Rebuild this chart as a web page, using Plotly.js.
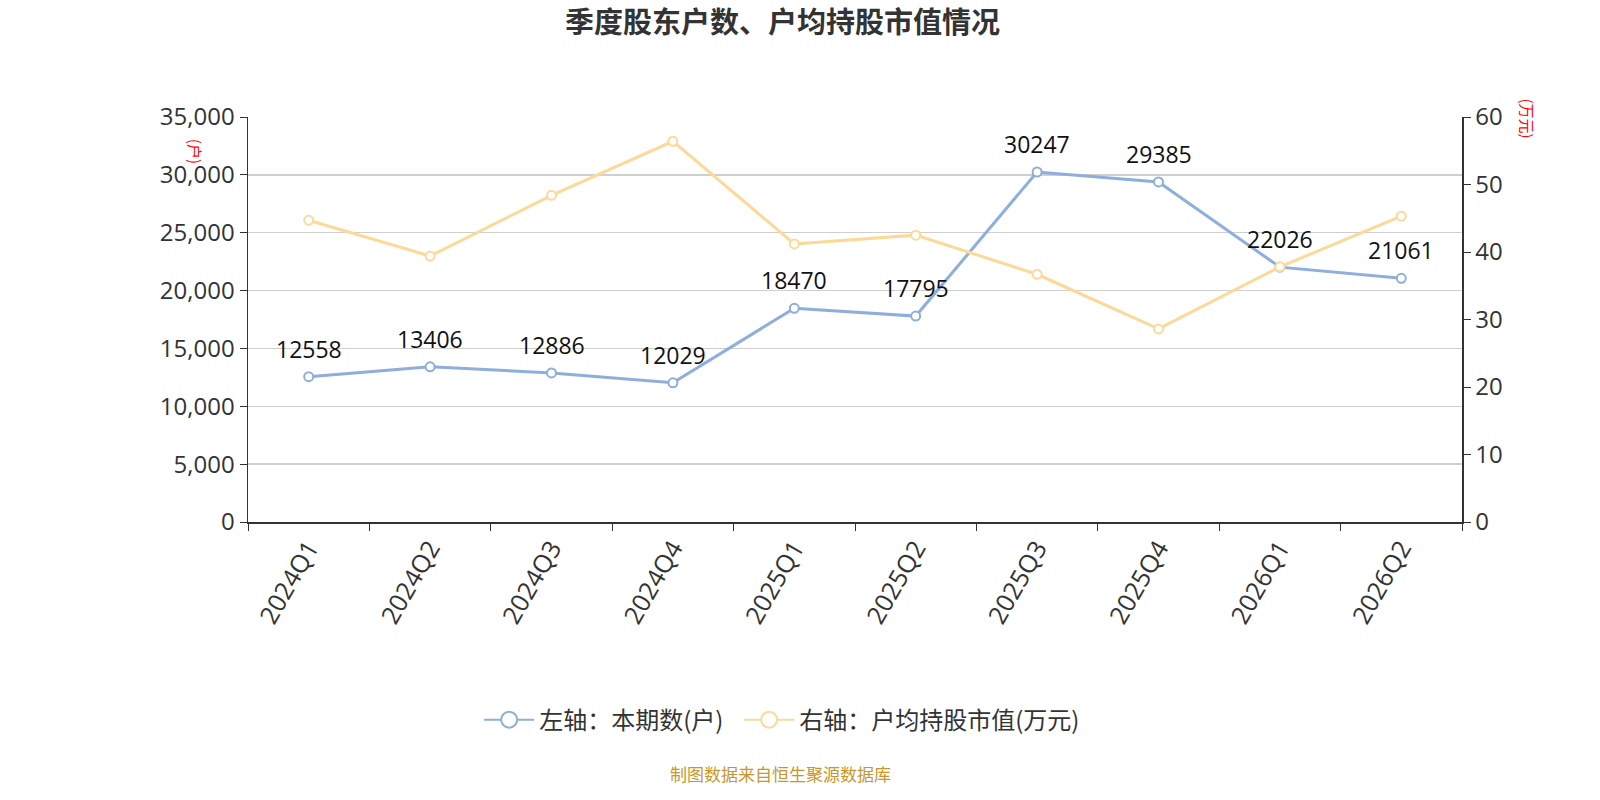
<!DOCTYPE html>
<html>
<head>
<meta charset="utf-8">
<script src="https://cdn.plot.ly/plotly-3.0.1.min.js"></script>
<style>
  html, body { margin: 0; padding: 0; background: #fff; }
  #chart { width: 1600px; height: 800px; }
</style>
</head>
<body>
<div id="chart"></div>
<script>
// quarters on the x axis
const quarters = ['2024Q1', '2024Q2', '2024Q3', '2024Q4', '2025Q1', '2025Q2', '2025Q3', '2025Q4', '2026Q1', '2026Q2'];
// left axis: holders this period (户)
const holders = [12558, 13406, 12886, 12029, 18470, 17795, 30247, 29385, 22026, 21061];
// right axis: average holding market value (万元)
const avgValue = [44.7, 39.4, 48.4, 56.4, 41.2, 42.5, 36.7, 28.6, 37.8, 45.3];

const font = '"Open Sans", "Noto Sans CJK SC", sans-serif';
const cjk = '"Noto Sans CJK SC", sans-serif';
const blue = '#8eaedc';
const yellow = '#fdd999';

const traces = [
  {
    x: quarters,
    y: holders,
    name: '左轴：本期数(户)',
    type: 'scatter',
    mode: 'lines+markers',
    showlegend: false,
    line: { color: blue, width: 3 },
    marker: { size: 9, color: '#fff', line: { color: blue, width: 2 } },
    cliponaxis: false
  },
  {
    x: quarters,
    y: avgValue,
    name: '右轴：户均持股市值(万元)',
    type: 'scatter',
    mode: 'lines+markers',
    yaxis: 'y2',
    showlegend: false,
    line: { color: yellow, width: 3 },
    marker: { size: 9, color: '#fff', line: { color: yellow, width: 2 } },
    cliponaxis: false
  },
  // legend entries with bigger symbols
  {
    x: [null], y: [null], name: '左轴：本期数(户)  ', type: 'scatter', mode: 'lines+markers',
    line: { color: blue, width: 2 },
    marker: { size: 16, color: '#fff', line: { color: blue, width: 2 } }
  },
  {
    x: [null], y: [null], name: '右轴：户均持股市值(万元)', type: 'scatter', mode: 'lines+markers',
    line: { color: yellow, width: 2 },
    marker: { size: 16, color: '#fff', line: { color: yellow, width: 2 } }
  }
];

// value labels above the blue points
const labels = quarters.map((q, i) => ({
  x: q, y: holders[i], xref: 'x', yref: 'y',
  text: String(holders[i]), showarrow: false,
  yanchor: 'middle', yshift: 28,
  font: { size: 23, color: '#111', family: font }
}));

const layout = {
  width: 1600,
  height: 800,
  margin: { l: 248, r: 138, t: 117, b: 278 },
  paper_bgcolor: '#fff',
  plot_bgcolor: '#fff',
  font: { family: font, color: '#333' },
  showlegend: true,
  title: {
    text: '<b>季度股东户数、户均持股市值情况</b>',
    font: { size: 29, color: '#333', family: cjk },
    x: 0.489, xanchor: 'center',
    y: 0.972, yanchor: 'middle'
  },
  xaxis: {
    type: 'category',
    range: [-0.5, 9.5],
    showgrid: false,
    showline: true,
    linecolor: '#333',
    linewidth: 1.5,
    ticks: 'outside',
    tickson: 'boundaries',
    ticklen: 7,
    tickcolor: '#333',
    tickangle: -60,
    tickfont: { size: 25, color: '#333' },
    zeroline: false
  },
  yaxis: {
    range: [0, 35000],
    dtick: 5000,
    tickformat: ',d',
    showline: true,
    linecolor: '#333',
    linewidth: 1.5,
    ticks: 'outside',
    ticklen: 7,
    tickcolor: '#333',
    tickfont: { size: 24, color: '#333' },
    gridcolor: '#cfcfcf',
    gridwidth: 1.5,
    zeroline: false
  },
  yaxis2: {
    overlaying: 'y',
    side: 'right',
    range: [0, 60],
    dtick: 10,
    showline: true,
    linecolor: '#333',
    linewidth: 1.5,
    ticks: 'outside',
    ticklen: 7,
    tickcolor: '#333',
    tickfont: { size: 24, color: '#333' },
    showgrid: false,
    zeroline: false
  },
  legend: {
    orientation: 'h',
    x: 0.44, xanchor: 'center',
    y: -0.489, yanchor: 'middle',
    font: { size: 24, color: '#333', family: cjk },
    itemwidth: 50
  },
  annotations: labels.concat([
    {
      text: '(户)', xref: 'paper', yref: 'paper',
      x: -0.054, y: 0.95, showarrow: false, textangle: 90,
      font: { size: 15, color: 'red', family: cjk }
    },
    {
      text: '(万元)', xref: 'paper', yref: 'paper',
      x: 1.064, y: 1.05, showarrow: false, textangle: 90,
      font: { size: 15, color: 'red', family: cjk }
    },
    {
      text: '制图数据来自恒生聚源数据库', xref: 'paper', yref: 'paper',
      x: 0.439, y: -0.62, xanchor: 'center', yanchor: 'middle', showarrow: false,
      font: { size: 17, color: '#c8962e', family: cjk }
    }
  ])
};

Plotly.newPlot('chart', traces, layout, { staticPlot: true });
</script>
</body>
</html>
